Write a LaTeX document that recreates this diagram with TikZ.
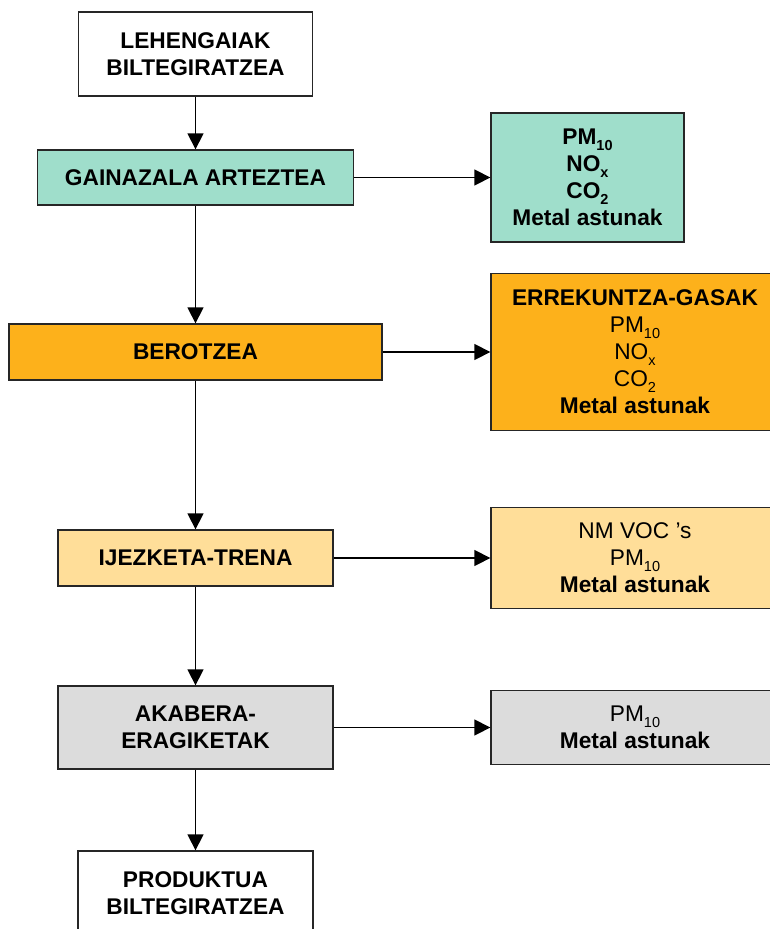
\documentclass[tikz,border=0pt]{standalone}
\usepackage{fontspec}
\setmainfont{Liberation Sans}
\usetikzlibrary{arrows.meta}
\newcommand{\lowsub}[1]{\raisebox{-6pt}{\fontsize{14.5}{14.5}\selectfont #1}}
\definecolor{tealfill}{HTML}{9FDECB}
\definecolor{orangefill}{HTML}{FDB11B}
\definecolor{lightorange}{HTML}{FFDE99}
\definecolor{greyfill}{HTML}{DCDCDC}
\begin{document}
\begin{tikzpicture}[x=1pt,y=-1pt,
  box/.style={draw=black!85, line width=1.3pt, inner sep=0pt, align=center,
    font=\fontsize{22.7}{27}\selectfont\bfseries},
  conn/.style={line width=1.3pt, -{Triangle[width=16pt,length=16pt]}}]
\useasboundingbox (0,0) rectangle (769,929);
% left column
\node[box, minimum width=234pt, minimum height=84pt] (n1) at (195.5,54) {LEHENGAIAK\\BILTEGIRATZEA};
\node[box, fill=tealfill, minimum width=316pt, minimum height=55pt] (n2) at (195.5,177.5) {GAINAZALA ARTEZTEA};
\node[box, fill=orangefill, minimum width=373pt, minimum height=56pt] (n3) at (195.5,352) {BEROTZEA};
\node[box, fill=lightorange, minimum width=275pt, minimum height=56pt] (n4) at (195.5,558) {IJEZKETA-TRENA};
\node[box, fill=greyfill, minimum width=275pt, minimum height=83pt] (n5) at (195.5,727.5) {AKABERA-\\ERAGIKETAK};
\node[box, minimum width=235pt, minimum height=84pt] (n6) at (195.5,893) {PRODUKTUA\\BILTEGIRATZEA};
% right column
\node[box, fill=tealfill, minimum width=193pt, minimum height=129pt] (e1) at (587.5,177.5)
  {PM\lowsub{10}\\NO\lowsub{x}\\CO\lowsub{2}\\Metal astunak};
\node[box, fill=orangefill, minimum width=288pt, minimum height=157pt] (e2) at (635,352)
  {ERREKUNTZA-GASAK\\\mdseries PM\lowsub{10}\\\mdseries NO\lowsub{x}\\\mdseries CO\lowsub{2}\\Metal astunak};
\node[box, fill=lightorange, minimum width=288pt, minimum height=101pt] (e3) at (635,558)
  {\mdseries NM VOC 's\\\mdseries PM\lowsub{10}\\Metal astunak};
\node[box, fill=greyfill, minimum width=288pt, minimum height=74pt] (e4) at (635,727.5)
  {\mdseries PM\lowsub{10}\\Metal astunak};
% connectors
\draw[conn] (n1.south) -- (n2.north);
\draw[conn] (n2.south) -- (n3.north);
\draw[conn] (n3.south) -- (n4.north);
\draw[conn] (n4.south) -- (n5.north);
\draw[conn] (n5.south) -- (n6.north);
\draw[conn] (n2.east) -- (e1.west);
\draw[conn] (n3.east) -- (e2.west);
\draw[conn] (n4.east) -- (e3.west);
\draw[conn] (n5.east) -- (e4.west);
\end{tikzpicture}
\end{document}
